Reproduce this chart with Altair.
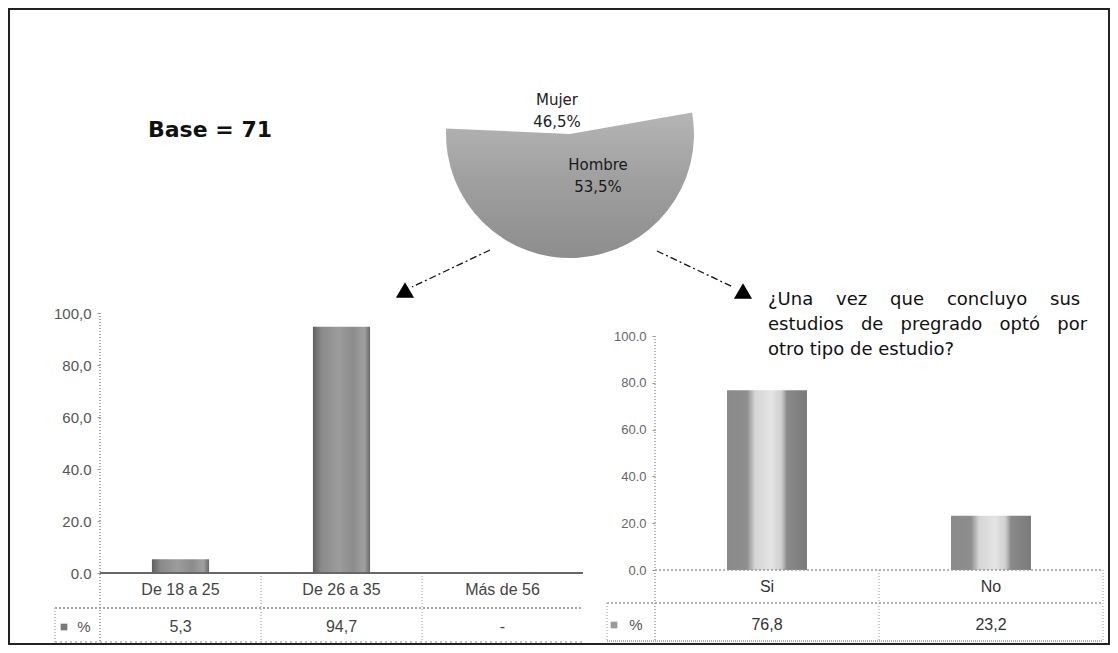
import math
import altair as alt
import pandas as pd

# ---------------- data ----------------
sexo = ["Hombre", "Mujer"]
sexo_pct = [53.5, 46.5]
edad_cat = ["De 18 a 25", "De 26 a 35", "Más de 56"]
edad_pct = [5.3, 94.7, 0.0]
estudio_cat = ["Si", "No"]
estudio_pct = [76.8, 23.2]
y_ticks = [0, 20, 40, 60, 80, 100]
base_n = 71
pregunta = ["¿Una vez que concluyo sus", "estudios de pregrado optó por", "otro tipo de estudio?"]


def es(v):
    return "-" if v == 0 else f"{v:.1f}".replace(".", ",")


NB = "\u00a0"


def spread(line, n):
    return (" " + NB * n).join(line.split(" "))


W, H = 1102, 637
LBL = "Liberation Sans"
TXT = "DejaVu Sans"


def grad(stops, vertical=False):
    return alt.Gradient(
        gradient="linear", x1=0, y1=0,
        x2=0 if vertical else 1, y2=1 if vertical else 0,
        stops=[alt.GradientStop(color=c, offset=o) for o, c in stops],
    )


grad_L = grad([(0, "#5e5e5e"), (0.15, "#8a8a8a"), (0.45, "#9c9c9c"), (0.7, "#8c8c8c"), (0.9, "#a0a0a0"), (1, "#6a6a6a")])
grad_R = grad([(0, "#8a8a8a"), (0.25, "#8e8e8e"), (0.35, "#d4d4d4"), (0.55, "#e4e4e4"), (0.68, "#cfcfcf"), (0.75, "#8a8a8a"), (1, "#7a7a7a")])
grad_P = grad([(0, "#b5b5b5"), (0.45, "#a0a0a0"), (1, "#8d8d8d")], vertical=True)

# ---------------- frame ----------------
frame = alt.Chart(pd.DataFrame({"k": [0]})).mark_rect(
    filled=False, stroke="#222", strokeWidth=2
).encode(x=alt.value(1), x2=alt.value(W - 1), y=alt.value(1), y2=alt.value(H - 1))

# ---------------- left chart (edad) ----------------
df_edad = pd.DataFrame({"cat": edad_cat, "pct": edad_pct, "lbl": [es(v) for v in edad_pct]})
LX0, LX1, LY0, LY1 = 92, 575, 565, 305
LTL, LROW, LBOT = 47, 600, 634
sxL = alt.Scale(type="band", domain=edad_cat, range=[LX0, LX1], paddingInner=0, paddingOuter=0)
syL = alt.Scale(domain=[0, 100], range=[LY0, LY1])
xL = alt.X("cat:N", scale=sxL, axis=None)
yL = alt.Y(
    "pct:Q", scale=syL,
    axis=alt.Axis(
        orient="left", offset=-LX0, values=y_ticks, domain=False, grid=False,
        tickSize=3, tickColor="#999", labelFont=LBL, labelFontSize=15, labelColor="#555",
        labelPadding=6, title=None,
        labelExpr="datum.value >= 60 ? replace(format(datum.value, '.1f'), '.', ',') : format(datum.value, '.1f')",
    ),
)
base_L = alt.Chart(df_edad)
bars_L = base_L.mark_bar(width=alt.RelativeBandSize(0.355), color=grad_L).encode(x=xL, y=yL)
zero_L = base_L.mark_rule(color="#666", strokeWidth=1.5).encode(
    y=alt.Y(datum=0, scale=syL), x=alt.value(LX0), x2=alt.value(LX1))
div_L = base_L.transform_filter(alt.datum.cat != edad_cat[0]).mark_rule(
    color="#999", strokeDash=[1, 2]).encode(
    x=alt.X("cat:N", scale=sxL, axis=None, bandPosition=0), y=alt.value(LY0), y2=alt.value(LBOT))
axl_L = base_L.mark_rule(color="#999", strokeDash=[1, 2]).encode(
    x=alt.value(LX0), y=alt.value(LY1), y2=alt.value(LBOT))
row_L = base_L.mark_rule(color="#999", strokeDash=[2, 2]).encode(
    x=alt.value(LTL), x2=alt.value(LX1), y=alt.value(LROW))
bot_L = base_L.mark_rule(color="#bbb", strokeDash=[2, 3]).encode(
    x=alt.value(LTL), x2=alt.value(LX1), y=alt.value(LBOT))
lb_L = base_L.mark_rule(color="#bbb", strokeDash=[1, 2]).encode(
    x=alt.value(LTL), y=alt.value(LROW), y2=alt.value(LBOT))
cat_L = base_L.mark_text(font=LBL, fontSize=16, color="#444", baseline="middle").encode(
    x=xL, y=alt.value(582), text="cat:N")
val_L = base_L.mark_text(font=LBL, fontSize=16, color="#444", baseline="middle").encode(
    x=xL, y=alt.value(619), text="lbl:N")
key_L = base_L.transform_filter(alt.datum.cat == edad_cat[0]).mark_point(
    shape="square", filled=True, size=45, color="#7a7a7a", opacity=1).encode(
    x=alt.value(56), y=alt.value(619))
pctk_L = base_L.transform_filter(alt.datum.cat == edad_cat[0]).mark_text(
    font=LBL, fontSize=15, color="#555", text="%").encode(x=alt.value(76), y=alt.value(619))

left = alt.layer(div_L, axl_L, row_L, bot_L, lb_L, bars_L, zero_L, cat_L, val_L, key_L, pctk_L)

# ---------------- right chart (estudio) ----------------
df_est = pd.DataFrame({"cat": estudio_cat, "pct": estudio_pct, "lbl": [es(v) for v in estudio_pct]})
RX0, RX1, RY0, RY1 = 647, 1095, 562, 328
RTL, RROW, RBOT = 599, 595, 633
sxR = alt.Scale(type="band", domain=estudio_cat, range=[RX0, RX1], paddingInner=0, paddingOuter=0)
syR = alt.Scale(domain=[0, 100], range=[RY0, RY1])
xR = alt.X("cat:N", scale=sxR, axis=None)
yR = alt.Y(
    "pct:Q", scale=syR,
    axis=alt.Axis(
        orient="left", offset=-RX0, values=y_ticks, domain=False, grid=False,
        tickSize=3, tickColor="#999", labelFont=LBL, labelFontSize=13, labelColor="#666",
        labelPadding=6, title=None, format=".1f",
    ),
)
base_R = alt.Chart(df_est)
bars_R = base_R.mark_bar(width=alt.RelativeBandSize(0.357), color=grad_R).encode(x=xR, y=yR)
zero_R = base_R.mark_rule(color="#999", strokeDash=[2, 2]).encode(
    y=alt.Y(datum=0, scale=syR), x=alt.value(RX0), x2=alt.value(RX1))
div_R = base_R.transform_filter(alt.datum.cat != estudio_cat[0]).mark_rule(
    color="#999", strokeDash=[1, 2]).encode(
    x=alt.X("cat:N", scale=sxR, axis=None, bandPosition=0), y=alt.value(RY0), y2=alt.value(RBOT))
end_R = base_R.transform_filter(alt.datum.cat == estudio_cat[-1]).mark_rule(
    color="#999", strokeDash=[1, 2]).encode(
    x=alt.X("cat:N", scale=sxR, axis=None, bandPosition=1), y=alt.value(RY0), y2=alt.value(RBOT))
axl_R = base_R.mark_rule(color="#999", strokeDash=[1, 2]).encode(
    x=alt.value(RX0), y=alt.value(RY1), y2=alt.value(RBOT))
row_R = base_R.mark_rule(color="#999", strokeDash=[2, 2]).encode(
    x=alt.value(RTL), x2=alt.value(RX1), y=alt.value(RROW))
bot_R = base_R.mark_rule(color="#999", strokeDash=[1, 1]).encode(
    x=alt.value(RTL), x2=alt.value(RX1), y=alt.value(RBOT))
lb_R = base_R.mark_rule(color="#bbb", strokeDash=[1, 2]).encode(
    x=alt.value(RTL), y=alt.value(RROW), y2=alt.value(RBOT))
cat_R = base_R.mark_text(font=LBL, fontSize=16, color="#333", baseline="middle").encode(
    x=xR, y=alt.value(579), text="cat:N")
val_R = base_R.mark_text(font=LBL, fontSize=16, color="#333", baseline="middle").encode(
    x=xR, y=alt.value(617), text="lbl:N")
key_R = base_R.transform_filter(alt.datum.cat == estudio_cat[0]).mark_point(
    shape="square", filled=True, size=45, color="#9a9a9a", opacity=1).encode(
    x=alt.value(606), y=alt.value(617))
pctk_R = base_R.transform_filter(alt.datum.cat == estudio_cat[0]).mark_text(
    font=LBL, fontSize=15, color="#555", text="%").encode(x=alt.value(628), y=alt.value(617))

right = alt.layer(div_R, end_R, axl_R, row_R, bot_R, lb_R, bars_R, zero_R, cat_R, val_R, key_R, pctk_R)

# ---------------- pie (sexo) ----------------
df_sexo = pd.DataFrame({
    "sexo": sexo, "pct": sexo_pct, "ord": list(range(len(sexo))),
    "lbl": [f"{s}\n{es(v)}%" for s, v in zip(sexo, sexo_pct)],
})
START = math.radians(80.0)
pie = alt.Chart(df_sexo).mark_arc(radius=124, strokeWidth=0).encode(
    theta=alt.Theta("pct:Q", stack=True, scale=alt.Scale(range=[START, START + 2 * math.pi])),
    order=alt.Order("ord:Q"),
    color=alt.condition(alt.datum.sexo == "Hombre", alt.value(grad_P), alt.value("rgba(255,255,255,0)")),
    x=alt.value(562), y=alt.value(126),
)
lbl_M = alt.Chart(df_sexo).transform_filter(alt.datum.sexo == "Mujer").mark_text(
    font=TXT, fontSize=15, color="#222", lineBreak="\n", lineHeight=22, baseline="middle").encode(
    x=alt.value(549), y=alt.value(92), text="lbl:N")
lbl_H = alt.Chart(df_sexo).transform_filter(alt.datum.sexo == "Hombre").mark_text(
    font=TXT, fontSize=15, color="#1a1a1a", lineBreak="\n", lineHeight=22, baseline="middle").encode(
    x=alt.value(590), y=alt.value(157), text="lbl:N")

# ---------------- annotations ----------------
one = pd.DataFrame({"k": [0]})
base_txt = alt.Chart(one).mark_text(
    font=TXT, fontSize=22, fontWeight="bold", color="#111", align="left", baseline="middle",
    text=f"Base = {base_n}").encode(x=alt.value(140), y=alt.value(122))

q_lines = [spread(pregunta[0], 3), spread(pregunta[1], 2), pregunta[2]]
q_txt = alt.Chart(one).mark_text(
    font=TXT, fontSize=18, color="#111", align="left", baseline="middle", lineHeight=25,
    text=q_lines).encode(x=alt.value(760), y=alt.value(292))

arrow_l = alt.Chart(one).mark_rule(color="#111", strokeWidth=1.3, strokeDash=[7, 3, 2, 3]).encode(
    x=alt.value(482), y=alt.value(242), x2=alt.value(404), y2=alt.value(279))
arrow_r = alt.Chart(one).mark_rule(color="#111", strokeWidth=1.3, strokeDash=[7, 3, 2, 3]).encode(
    x=alt.value(649), y=alt.value(243), x2=alt.value(725), y2=alt.value(279))
tri_l = alt.Chart(one).mark_point(shape="triangle-up", filled=True, size=330, color="#000", opacity=1).encode(
    x=alt.value(397), y=alt.value(282))
tri_r = alt.Chart(one).mark_point(shape="triangle-up", filled=True, size=330, color="#000", opacity=1).encode(
    x=alt.value(735), y=alt.value(283))

chart = alt.layer(
    frame, left, right, pie, lbl_M, lbl_H, base_txt, q_txt, arrow_l, arrow_r, tri_l, tri_r
).resolve_scale(x="independent", y="independent").properties(
    width=W, height=H, autosize=alt.AutoSizeParams(type="none"), padding=0,
    background="white",
).configure_view(stroke=None)

chart.save("out.html", embed_options={"renderer": "svg", "actions": False})
